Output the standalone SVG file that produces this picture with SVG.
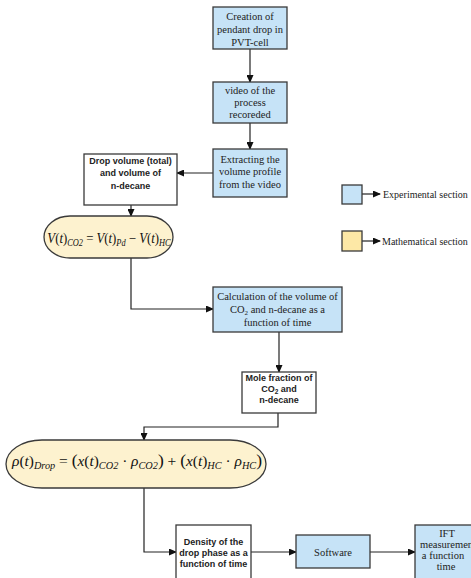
<svg xmlns="http://www.w3.org/2000/svg" width="471" height="578" viewBox="0 0 471 578">
<defs>
<marker id="ah" markerWidth="8" markerHeight="7" refX="7" refY="3.5" orient="auto" markerUnits="userSpaceOnUse">
<path d="M0,0 L8,3.5 L0,7 Z" fill="#111"/>
</marker>
<style>
.exp{fill:#c6e3f7;stroke:#3a3a3a;stroke-width:1.3}
.wht{fill:#ffffff;stroke:#3a3a3a;stroke-width:1.3}
.math{fill:#fdf2cf;stroke:#3a3a3a;stroke-width:1.3}
.ser{font-family:"Liberation Serif",serif;font-size:10.5px;fill:#222;text-anchor:middle}
.bold{font-family:"Liberation Sans",Arial,sans-serif;font-size:9px;font-weight:bold;fill:#222;text-anchor:middle}
.leg{font-family:"Liberation Serif",serif;font-size:10px;fill:#222}
.eq{font-family:"Liberation Serif",serif;fill:#111;text-anchor:middle}
.i{font-style:italic}
.con{fill:none;stroke:#222;stroke-width:1.2;marker-end:url(#ah)}
</style>
</defs>
<rect width="471" height="578" fill="#ffffff"/>

<g id="connectors">
<path class="con" d="M250,49 V82"/>
<path class="con" d="M250,123 V149"/>
<path class="con" d="M213,173 H177"/>
<path class="con" d="M131,205 V216"/>
<path class="con" d="M131,258 V309 H213"/>
<path class="con" d="M279,332 V372"/>
<path class="con" d="M278,413 V427 H144 V440"/>
<path class="con" d="M144,488 V552 H176"/>
<path class="con" d="M251,552 H296"/>
<path class="con" d="M370,552 H415"/>
<path class="con" d="M362,194 H380"/>
<path class="con" d="M362,241 H380"/>
</g>

<g id="n1">
<rect class="exp" x="213" y="7" width="74" height="42"/>
<text class="ser" x="250" y="19.5">Creation of</text>
<text class="ser" x="250" y="32.5">pendant drop in</text>
<text class="ser" x="250" y="45.5">PVT-cell</text>
</g>
<g id="n2">
<rect class="exp" x="213" y="82" width="74" height="41"/>
<text class="ser" x="250" y="93.5">video of the</text>
<text class="ser" x="250" y="105.5">process</text>
<text class="ser" x="250" y="117.5">recoreded</text>
</g>
<g id="n3">
<rect class="exp" x="213" y="149" width="74" height="48"/>
<text class="ser" x="250" y="162.5">Extracting the</text>
<text class="ser" x="250" y="175">volume profile</text>
<text class="ser" x="250" y="187.5">from the video</text>
</g>
<g id="n4">
<rect class="wht" x="84" y="154" width="93" height="51"/>
<text class="bold" x="130.5" y="163.5">Drop volume (total)</text>
<text class="bold" x="130.5" y="176">and volume of</text>
<text class="bold" x="130.5" y="188.5">n-decane</text>
</g>
<g id="n5">
<rect class="math" x="44" y="216" width="129" height="42" rx="26" ry="21"/>
<text class="eq" transform="translate(109,243) scale(0.88,1)" x="0" y="0" font-size="14.5"><tspan class="i">V</tspan>(<tspan class="i">t</tspan>)<tspan class="i" font-size="9.5" dy="3">CO2</tspan><tspan dy="-3"> = </tspan><tspan class="i">V</tspan>(<tspan class="i">t</tspan>)<tspan class="i" font-size="9.5" dy="3">Pd</tspan><tspan dy="-3"> − </tspan><tspan class="i">V</tspan>(<tspan class="i">t</tspan>)<tspan class="i" font-size="9.5" dy="3">HC</tspan></text>
</g>
<g id="n6">
<rect class="exp" x="213" y="287" width="129" height="45"/>
<text class="ser" x="277.5" y="299.5">Calculation of the volume of</text>
<text class="ser" x="277.5" y="312.5">CO<tspan font-size="7" dy="2">2</tspan><tspan dy="-2"> and n-decane as a</tspan></text>
<text class="ser" x="277.5" y="325.5">function of time</text>
</g>
<g id="n7">
<rect class="wht" x="242" y="372" width="74" height="41"/>
<text class="bold" x="279" y="380.5">Mole fraction of</text>
<text class="bold" x="279" y="391.5">CO<tspan font-size="6.5" dy="2">2</tspan><tspan dy="-2"> and</tspan></text>
<text class="bold" x="279" y="402.5">n-decane</text>
</g>
<g id="n8">
<rect class="math" x="6" y="440" width="260" height="48" rx="36" ry="24"/>
<text class="eq" x="137" y="466" font-size="15" textLength="250" lengthAdjust="spacingAndGlyphs"><tspan class="i">ρ</tspan>(<tspan class="i">t</tspan>)<tspan class="i" font-size="10" dy="3">Drop</tspan><tspan dy="-3"> =  </tspan><tspan font-size="17">(</tspan><tspan class="i">x</tspan>(<tspan class="i">t</tspan>)<tspan class="i" font-size="10" dy="3">CO2</tspan><tspan dy="-3"> · </tspan><tspan class="i">ρ</tspan><tspan class="i" font-size="10" dy="3">CO2</tspan><tspan dy="-3" font-size="17">)</tspan><tspan> +  </tspan><tspan font-size="17">(</tspan><tspan class="i">x</tspan>(<tspan class="i">t</tspan>)<tspan class="i" font-size="10" dy="3">HC</tspan><tspan dy="-3"> · </tspan><tspan class="i">ρ</tspan><tspan class="i" font-size="10" dy="3">HC</tspan><tspan dy="-3" font-size="17">)</tspan></text>
</g>
<g id="n9">
<rect class="wht" x="176" y="525" width="75" height="60"/>
<text class="bold" x="213.5" y="544.5">Density of the</text>
<text class="bold" x="213.5" y="555.5">drop phase as a</text>
<text class="bold" x="213.5" y="566.5">function of time</text>
</g>
<g id="n10">
<rect class="exp" x="296" y="535" width="74" height="33"/>
<text class="ser" x="333" y="555.5">Software</text>
</g>
<g id="n11">
<rect class="exp" x="415" y="525" width="80" height="60"/>
<text class="ser" x="447" y="536.5">IFT</text>
<text class="ser" x="448" y="547.5">measurement</text>
<text class="ser" x="443" y="558.5">a function</text>
<text class="ser" x="446" y="569.5">time</text>
</g>

<g id="legend">
<rect class="exp" x="342" y="185" width="20" height="19"/>
<text class="leg" x="383" y="197.5">Experimental section</text>
<rect x="342" y="231" width="20" height="20" fill="#fde8a6" stroke="#3a3a3a" stroke-width="1.3"/>
<text class="leg" x="382" y="244.5">Mathematical section</text>
</g>
</svg>
